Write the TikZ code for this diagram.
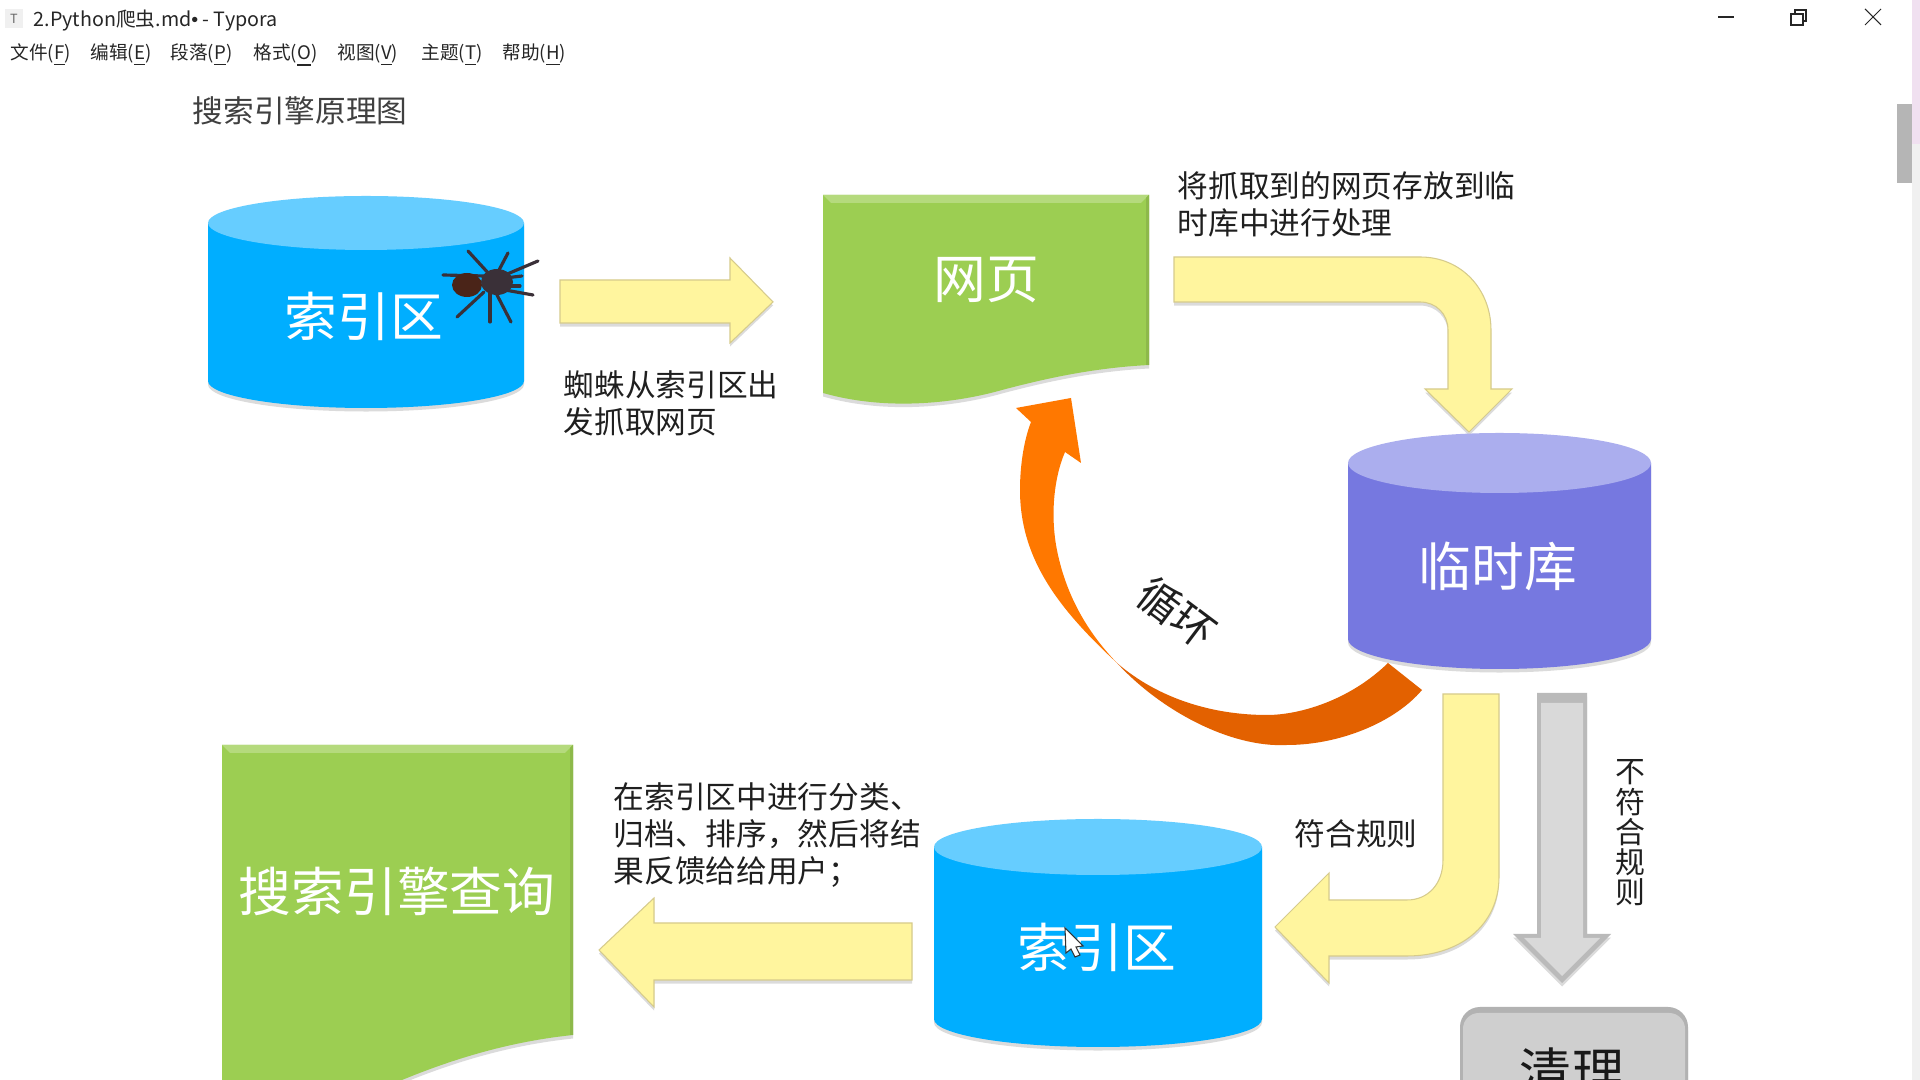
\documentclass[tikz,border=0pt]{standalone}
\usepackage{fontspec}
\setmainfont{Noto Sans CJK SC}
\newfontfamily\barfont{Liberation Sans}
\usetikzlibrary{shadows}

\definecolor{dbblue}{HTML}{00AEFF}
\definecolor{dbbluetop}{HTML}{66CDFF}
\definecolor{dbpurple}{HTML}{7678E0}
\definecolor{dbpurpletop}{HTML}{ABAEEE}
\definecolor{docgreen}{HTML}{9CCE52}
\definecolor{arrowyellow}{HTML}{FFF59E}
\definecolor{arrowedge}{HTML}{D6CB8C}
\definecolor{loopup}{HTML}{FF7800}
\definecolor{loopdown}{HTML}{E36100}
\definecolor{spiderbody}{HTML}{4A2418}
\definecolor{spiderhead}{HTML}{3A3038}

\tikzset{
	softshade/.style={drop shadow={shadow xshift=0pt,shadow yshift=-1pt,opacity=.14,fill=black}},
	docshape/.style={fill=docgreen,softshade},
	yellowarrow/.style={fill=arrowyellow,draw=arrowedge,line width=.3pt,softshade},
	bodytext/.style={font=\fontsize{8.73}{10.5}\selectfont,text=black!88,inner sep=0pt,align=left,anchor=west},
	bigwhite/.style={font=\fontsize{15}{17}\selectfont,text=white,inner sep=0pt},
	menuitem/.style={font=\fontsize{5.3}{6.5}\selectfont,text=black!85,inner sep=0pt,anchor=west},
	winglyph/.style={draw=black!85,line width=.3pt},
}

% one cylinder: centre x, half width, y of top ellipse, y of bottom ellipse, ellipse height, body colour, top colour
\newcommand{\dbcylinder}[7]{
	\fill[#6,softshade] (#1-#2,#3) -- (#1-#2,#4) arc[start angle=180,end angle=0,x radius=#2,y radius=#5] -- (#1+#2,#3) -- cycle;
	\fill[#7] (#1,#3) ellipse[x radius=#2,y radius=#5];
}

\begin{document}
\begin{tikzpicture}[x=0.01cm,y=-0.01cm]
	
	% Fix the page
	\useasboundingbox (0,0) rectangle (1920,1080);
	\clip (0,0) rectangle (1920,1080);
	\fill[white] (0,0) rectangle (1920,1080);
	
	% Window bar and menu
	\fill[black!6] (5,9) rectangle (23,28);
	\node[font=\fontsize{3.6}{4}\selectfont,text=black!60] (appicon) at (14,19) {T};
	\node[menuitem,font=\fontsize{5.6}{7}\selectfont] (wintitle) at (33,20.5) {2.Python爬虫.md{\barfont •} - Typora};
	\foreach \menux/\menutxt [count=\i] in {10/文件(\underline{F}),90/编辑(\underline{E}),170/段落(\underline{P}),253/格式(\underline{O}),337/视图(\underline{V}),421/主题(\underline{T}),502/帮助(\underline{H})}
		\node[menuitem] (menu\i) at (\menux,55.5) {\menutxt};
	\draw[winglyph] (1718,17) -- (1734,17);
	\draw[winglyph] (1791,14) rectangle (1803,25);
	\draw[winglyph] (1795,14) -- (1795,10) -- (1806,10) -- (1806,21) -- (1803,21);
	\draw[winglyph] (1865,9) -- (1881,25);
	\draw[winglyph] (1881,9) -- (1865,25);
	
	% Scrollbar
	\fill[black!6] (1912,0) rectangle (1920,1080);
	\fill[violet!12] (1912,0) rectangle (1920,144);
	\fill[black!29] (1897,104) rectangle (1912,183);
	
	% Heading
	\node[bodytext,text=black!75] (heading) at (192,111) {搜索引擎原理图};
	
	% First index area with the spider
	\dbcylinder{366}{158}{223}{381}{27}{dbblue}{dbbluetop}
	\node[bigwhite] (indexa) at (364,316) {索引区};
	\foreach \legx/\legy/\footx/\footy in {490/275/468/251,484/276/443/275,484/292/457/317,490/293/490/322,496/293/511/322,498/272/508/253,505/275/538/261,505/290/533/295,505/278/522/276,508/286/520/286}
		\draw[spiderhead,line width=.9pt,line cap=round] (\legx,\legy) -- (\footx,\footy);
	\fill[spiderbody] (467,285) ellipse[x radius=15,y radius=12];
	\fill[spiderhead] (497,282) ellipse[x radius=16,y radius=13];
	
	% Crawling arrow
	\filldraw[yellowarrow] (560,280) -- (730,280) -- (730,258) -- (773,302) -- (730,343) -- (730,323) -- (560,323) -- cycle;
	\node[bodytext] (crawlnote) at (563,403) {蜘蛛从索引区出\\发抓取网页};
	
	% Web page
	\fill[docshape] (823,195) -- (1149,195) -- (1149,365) .. controls (1090,368) and (1040,380) .. (1002,390) .. controls (960,402) and (890,412) .. (823,393) -- cycle;
	\fill[docgreen!75!white] (823,195) -- (1149,195) -- (1141,203) -- (831,203) -- cycle;
	\fill[docgreen!90!black] (1149,195) -- (1149,365) -- (1146,365) -- (1146,198) -- cycle;
	\node[bigwhite] (webpage) at (986,280) {网页};
	\node[bodytext] (storenote) at (1177,204) {将抓取到的网页存放到临\\时库中进行处理};
	
	% Arrow down into the temporary store
	\filldraw[yellowarrow] (1174,257) -- (1420,257) .. controls (1462,257) and (1491,290) .. (1491,330) -- (1491,389) -- (1512,389) -- (1469,432) -- (1425,389) -- (1448,389) -- (1448,330) .. controls (1448,314) and (1436,302) .. (1420,302) -- (1174,302) -- cycle;
	
	% Temporary store
	\dbcylinder{1499.5}{151.5}{463}{639}{30}{dbpurple}{dbpurpletop}
	\node[bigwhite] (tempstore) at (1498,566) {临时库};
	
	% Loop arrow, in two tones
	\fill[loopup] (1117,663) .. controls (1060,610) and (1020,560) .. (1020,490) .. controls (1020,465) and (1024,440) .. (1031,422) -- (1016,408) -- (1071,398) -- (1081,463) -- (1065,452) .. controls (1053,480) and (1050,520) .. (1058,555) .. controls (1068,600) and (1090,635) .. (1117,663) -- cycle;
	\fill[loopdown] (1117,663) .. controls (1160,710) and (1230,748) .. (1287,745) .. controls (1340,745) and (1395,722) .. (1422,690) -- (1388,663) .. controls (1350,700) and (1300,715) .. (1267,715) .. controls (1215,715) and (1160,700) .. (1117,663) -- cycle;
	\node[bodytext,anchor=center,font=\fontsize{12}{14}\selectfont,rotate=-37] (loopnote) at (1177,613) {循环};
	
	% Arrow to the second index area
	\filldraw[yellowarrow] (1443,694) -- (1499,694) -- (1499,877) .. controls (1499,925) and (1460,956) .. (1407,956) -- (1329,956) -- (1329,983) -- (1275,927) -- (1329,873) -- (1329,900) -- (1407,900) .. controls (1428,900) and (1443,884) .. (1443,860) -- cycle;
	\node[bodytext,anchor=center] (matchnote) at (1356,834) {符合规则};
	
	% Arrow to the clean-up
	\fill[black!27,softshade] (1537,693) -- (1587,693) -- (1587,934) -- (1611,934) -- (1562,983) -- (1513,934) -- (1537,934) -- cycle;
	\fill[black!15] (1541,703) -- (1583,703) -- (1583,938) -- (1600,938) -- (1562,976) -- (1524,938) -- (1541,938) -- cycle;
	\node[bodytext,anchor=center,font=\fontsize{8.5}{8.6}\selectfont,align=center] (nomatchnote) at (1630,833) {不\\符\\合\\规\\则};
	
	% Clean-up box
	\fill[black!30,rounded corners=5.7pt,softshade] (1460,1007) rectangle (1688,1110);
	\fill[black!19,rounded corners=4.5pt] (1463,1013) rectangle (1685,1110);
	\node[font=\fontsize{14.8}{17}\selectfont,text=black!90,inner sep=0pt] (cleanup) at (1572,1072) {清理};
	
	% Second index area
	\dbcylinder{1098}{164}{847}{1019}{28}{dbblue}{dbbluetop}
	\node[bigwhite] (indexb) at (1097,947) {索引区};
	\draw[black!80,fill=white,line width=.3pt] (1065,928) -- (1083,946) -- (1076,947) -- (1080,955) -- (1075,957) -- (1071,949) -- (1066,953) -- cycle;
	
	% Arrow to the search page
	\filldraw[yellowarrow] (912,923) -- (654,923) -- (654,898) -- (599,950) -- (654,1007) -- (654,980) -- (912,980) -- cycle;
	\node[bodytext] (resultnote) at (613,835) {在索引区中进行分类、\\归档、排序，然后将结\\果反馈给给用户；};
	
	% Search page
	\fill[docshape] (222,745) -- (573,745) -- (573,1035) .. controls (525,1040) and (470,1052) .. (402,1080) -- (380,1100) -- (222,1100) -- cycle;
	\fill[docgreen!75!white] (222,745) -- (573,745) -- (565,753) -- (230,753) -- cycle;
	\fill[docgreen!90!black] (573,745) -- (573,1035) -- (570,1035) -- (570,748) -- cycle;
	\node[bigwhite] (searchpage) at (397,891) {搜索引擎查询};
	
\end{tikzpicture}
\end{document}
